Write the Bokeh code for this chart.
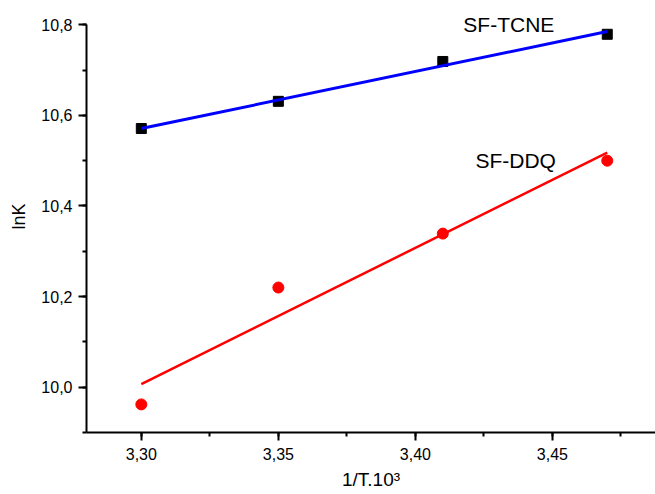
from bokeh.plotting import figure
from bokeh.models import Range1d, SingleIntervalTicker, CustomJSTickFormatter, Label
from bokeh.embed import file_html
from bokeh.resources import INLINE

# Data
x_vals = [3.30, 3.35, 3.41, 3.47]
tcne_y = [10.571, 10.631, 10.719, 10.779]
ddq_y = [9.962, 10.220, 10.339, 10.500]

# fitted lines (read endpoints)
fit_x = [3.30, 3.47]
tcne_fit = [10.571, 10.785]
ddq_fit = [10.007, 10.518]

series_names = ["SF-TCNE", "SF-DDQ"]

FONT = "Liberation Sans"

p = figure(width=655, height=494, output_backend="svg", toolbar_location=None,
           x_range=Range1d(3.28, 3.4876), y_range=Range1d(9.9, 10.8536),
           min_border_left=86, min_border_right=0, min_border_top=0, min_border_bottom=62)
p.outline_line_color = None
p.xgrid.visible = False
p.ygrid.visible = False
p.background_fill_color = "white"
p.border_fill_color = "white"

# markers
p.scatter(x_vals, tcne_y, marker="square", size=10, color="black")
p.scatter(x_vals, ddq_y, marker="circle", size=11, color="#ff0000")

# fit lines
p.line(fit_x, tcne_fit, line_color="#0000ff", line_width=3)
p.line(fit_x, ddq_fit, line_color="#ff0000", line_width=2.5)

# axes
p.xaxis.ticker = SingleIntervalTicker(interval=0.05, num_minor_ticks=2)
p.yaxis.ticker = SingleIntervalTicker(interval=0.2, num_minor_ticks=2)
p.yaxis.bounds = (9.9, 10.8)
p.xaxis.formatter = CustomJSTickFormatter(code="return tick.toFixed(2).replace('.', ',');")
p.yaxis.formatter = CustomJSTickFormatter(code="return tick.toFixed(1).replace('.', ',');")

for ax in (p.xaxis[0], p.yaxis[0]):
    ax.axis_line_width = 2
    ax.major_tick_line_width = 2
    ax.minor_tick_line_width = 2
    ax.major_tick_out = 8
    ax.major_tick_in = 0
    ax.minor_tick_out = 4
    ax.minor_tick_in = 0
    ax.major_label_text_font = FONT
    ax.major_label_text_font_size = "16px"
    ax.major_label_text_color = "black"
    ax.axis_label_text_font = FONT
    ax.axis_label_text_font_style = "normal"
    ax.axis_label_text_color = "black"

p.xaxis.axis_label = "1/T.10³"
p.xaxis.axis_label_text_font_size = "19px"
p.xaxis.major_label_standoff = 7
p.xaxis.axis_label_standoff = 6

p.yaxis.axis_label = "lnK"
p.yaxis.axis_label_text_font_size = "18px"
p.yaxis.major_label_standoff = 6
p.yaxis.axis_label_standoff = 9

p.add_layout(Label(x=3.4175, y=10.801, text=series_names[0], text_font=FONT,
                   text_font_size="21px", text_color="black", text_baseline="alphabetic"))
p.add_layout(Label(x=3.4219, y=10.5006, text=series_names[1], text_font=FONT,
                   text_font_size="21px", text_color="black", text_baseline="alphabetic"))

open("out.html", "w").write(file_html(p, INLINE))
